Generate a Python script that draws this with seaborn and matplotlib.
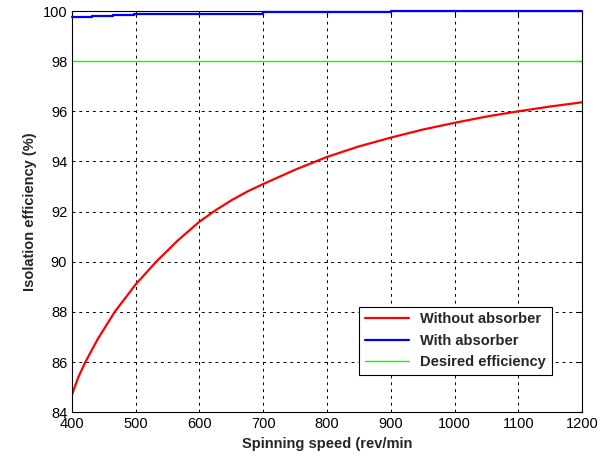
import matplotlib
matplotlib.use("Agg")
import matplotlib.pyplot as plt
import numpy as np
import pandas as pd
import seaborn as sns

# values
speed = [400, 410, 421, 440, 467, 500, 532, 566, 600, 625, 650, 675, 700,
         750, 800, 850, 900, 950, 1000, 1050, 1100, 1150, 1200]
eff_without = [84.7, 85.4, 86.0, 86.9, 88.0, 89.1, 90.0, 90.85, 91.6, 92.05,
               92.45, 92.8, 93.1, 93.67, 94.18, 94.6, 94.95, 95.27, 95.54,
               95.79, 96.0, 96.19, 96.36]

speed_steps = [400, 431, 465, 498, 699, 900, 1200]
eff_with = [99.75, 99.8, 99.85, 99.9, 99.95, 100.0, 100.0]

desired_speed = [400, 1200]
desired_eff = [98, 98]

sns.set_style("white")
plt.rcParams['font.family'] = ['Liberation Sans', 'DejaVu Sans']

fig = plt.figure(figsize=(6.05, 4.59), dpi=100)
ax = fig.add_axes([0.119, 0.102, 0.843, 0.874])

df_red = pd.DataFrame({"speed": speed, "eff": eff_without})
sns.lineplot(data=df_red, x="speed", y="eff", color="#ff0000", lw=1.6,
             ax=ax, label="Without absorber")
ax.plot(speed_steps, eff_with, color="#0000ff", lw=1.6, drawstyle="steps-post",
        label="With absorber", clip_on=False, zorder=5)
sns.lineplot(x=desired_speed, y=desired_eff, color="#00ff00", lw=1.0, ax=ax,
             label="Desired efficiency")

ax.set_xlim(400, 1200)
ax.set_ylim(84, 100)
ax.set_xticks(range(400, 1201, 100))
ax.set_yticks(range(84, 101, 2))
ax.grid(True, color="black", linestyle=(0, (3, 4)), lw=0.7)
for s in ax.spines.values():
    s.set_color("black")
    s.set_linewidth(0.8)
ax.tick_params(direction="in", length=4, labelsize=10.5, colors="black",
               top=True, right=True)
ax.set_xlabel("Spinning speed (rev/min", fontweight="bold", fontsize=10.5)
ax.set_ylabel("Isolation efficiency (%)", fontweight="bold", fontsize=10.5)

leg = ax.legend(loc="lower right", bbox_to_anchor=(0.955, 0.075),
                fancybox=False, framealpha=1, edgecolor="black",
                prop={"weight": "bold", "size": 10.5}, handlelength=3)
leg.get_frame().set_linewidth(0.8)

fig.savefig("out.png", dpi=100)
